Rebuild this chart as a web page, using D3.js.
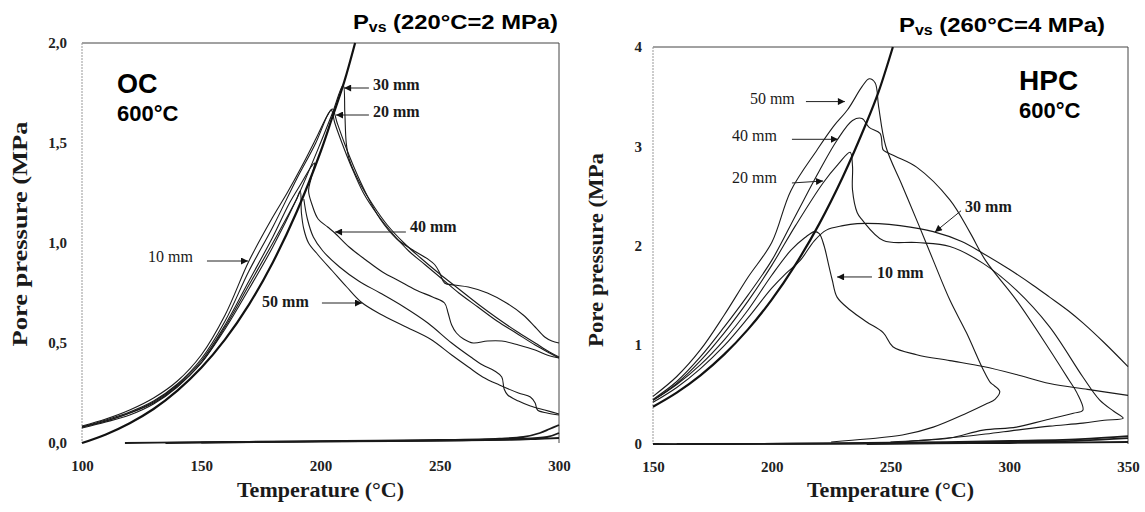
<!DOCTYPE html>
<html>
<head>
<meta charset="utf-8">
<script src="https://cdn.jsdelivr.net/npm/d3@7"></script>
<style>
    body { margin: 0; background: #fff; }
    svg { display: block; }
    .tick text { font-family: "Liberation Serif", "Times New Roman", serif; font-weight: bold; font-size: 15px; fill: #222; }
    .curve { fill: none; stroke: #1a1a1a; stroke-width: 1.1; stroke-linejoin: round; }
    .sat { fill: none; stroke: #111; stroke-width: 2.2; }
    .base { fill: none; stroke: #1a1a1a; stroke-width: 1.8; }
    .note { font-family: "Liberation Serif", "Times New Roman", serif; font-size: 16px; fill: #1a1a1a; }
    .head { font-family: "Liberation Sans", Arial, sans-serif; font-weight: bold; fill: #000; }
    .axlabel { font-family: "Liberation Serif", "Times New Roman", serif; font-weight: bold; font-size: 22px; fill: #1a1a1a; }
</style>
</head>
<body>
<svg width="1145" height="512"></svg>
<script>
// ---- OC panel (ordinary concrete) ----
const ocTicksX = [100, 150, 200, 250, 300];
const ocTicksY = [0, 0.5, 1, 1.5, 2];

// saturation vapour pressure (gauge), thick line
const ocSat = [[100, 0], [110, 0.043], [120, 0.099], [130, 0.17], [140, 0.262], [150, 0.376], [160, 0.518],
    [170, 0.692], [180, 0.903], [190, 1.155], [200, 1.455], [205, 1.63], [210, 1.808], [214.5, 2.0]];

const oc10 = [[100, 0.085], [110, 0.12], [120, 0.165], [130, 0.225], [140, 0.31], [150, 0.44], [160, 0.64],
    [170, 0.91], [180, 1.13], [186, 1.25], [192, 1.38], [198, 1.52], [203, 1.64], [205, 1.67], [207, 1.6],
    [210, 1.5], [214, 1.38], [219, 1.25], [225, 1.12], [232, 1.02], [238, 0.97], [245, 0.92], [248, 0.89],
    [250, 0.85], [252, 0.8], [256, 0.79], [262, 0.78], [270, 0.75], [278, 0.7], [285, 0.64], [290, 0.58],
    [294, 0.53], [297, 0.51], [300, 0.5]];
const oc20 = [[100, 0.08], [110, 0.115], [120, 0.155], [130, 0.21], [140, 0.295], [150, 0.42], [160, 0.61],
    [170, 0.86], [180, 1.08], [190, 1.32], [198, 1.5], [203, 1.64], [204.5, 1.665], [206, 1.6], [209, 1.5],
    [213, 1.38], [218, 1.25], [224, 1.14], [230, 1.05], [237, 0.96], [244, 0.89], [251, 0.82], [258, 0.75],
    [266, 0.68], [274, 0.61], [282, 0.55], [290, 0.49], [296, 0.45], [300, 0.425]];
const oc30 = [[100, 0.075], [110, 0.105], [120, 0.14], [130, 0.195], [140, 0.28], [150, 0.4], [160, 0.57],
    [170, 0.77], [180, 0.98], [190, 1.22], [200, 1.5], [205, 1.65], [209.5, 1.79], [210.2, 1.65], [210.8, 1.5],
    [212, 1.42], [216, 1.31], [222, 1.19], [228, 1.09], [235, 1.0], [242, 0.925], [250, 0.845], [258, 0.77],
    [266, 0.695], [274, 0.625], [282, 0.56], [290, 0.5], [296, 0.455], [300, 0.43]];
const oc40 = [[100, 0.08], [110, 0.11], [120, 0.15], [130, 0.205], [140, 0.29], [150, 0.41], [160, 0.59],
    [170, 0.81], [180, 1.03], [187, 1.2], [192, 1.3], [196, 1.38], [197.5, 1.4], [196, 1.32], [195, 1.26],
    [196.5, 1.19], [199, 1.12], [203, 1.08], [206, 1.05], [212, 0.98], [219, 0.915], [226, 0.855], [233, 0.81],
    [240, 0.765], [247, 0.73], [252, 0.7], [253.5, 0.65], [255, 0.59], [257, 0.55], [260, 0.52], [264, 0.5],
    [270, 0.51], [276, 0.51], [283, 0.49], [290, 0.465], [295, 0.44], [300, 0.425]];
const oc45 = [[193, 1.22], [194.5, 1.12], [197, 1.03], [201, 0.96], [208, 0.88], [216, 0.81], [225, 0.75],
    [235, 0.68], [245, 0.6], [255, 0.5], [263, 0.43], [268, 0.39], [273, 0.36], [276, 0.33], [277, 0.27],
    [278.5, 0.24], [283, 0.21], [288, 0.185], [294, 0.165], [300, 0.145]];
const oc50 = [[100, 0.08], [110, 0.11], [120, 0.15], [130, 0.2], [140, 0.285], [150, 0.4], [160, 0.58],
    [170, 0.79], [180, 1.0], [186, 1.13], [190, 1.22], [191.5, 1.26], [192, 1.15], [193, 1.07], [195, 1.0],
    [199, 0.94], [205, 0.86], [211, 0.78], [217, 0.705], [225, 0.645], [235, 0.585], [246, 0.52], [255, 0.44],
    [262, 0.38], [268, 0.33], [275, 0.29], [283, 0.25], [288, 0.23], [290, 0.2], [291, 0.165], [295, 0.15],
    [300, 0.14]];
const ocBase1 = [[118, 0.0], [140, 0.003], [170, 0.006], [200, 0.008], [230, 0.01], [260, 0.013], [280, 0.016],
    [290, 0.02], [300, 0.025]];
const ocBase2 = [[135, 0.0], [170, 0.005], [210, 0.01], [250, 0.015], [275, 0.022], [285, 0.03], [292, 0.05],
    [296, 0.07], [300, 0.09]];
const ocBase3 = [[150, 0.002], [200, 0.008], [250, 0.012], [280, 0.02], [295, 0.03], [300, 0.05]];

// ---- HPC panel (high performance concrete) ----
const hpcTicksX = [150, 200, 250, 300, 350];
const hpcTicksY = [0, 1, 2, 3, 4];

const hpcSat = [[150, 0.376], [160, 0.518], [170, 0.692], [180, 0.903], [190, 1.155], [200, 1.455], [210, 1.808],
    [220, 2.218], [230, 2.695], [240, 3.244], [245, 3.55], [251, 4.0]];

const hpc10 = [[150, 0.44], [160, 0.6], [170, 0.8], [180, 1.05], [190, 1.35], [200, 1.7], [208, 1.95],
    [214, 2.08], [218, 2.14], [220, 2.12], [222, 2.0], [224, 1.8], [225.5, 1.65], [227.5, 1.48], [233, 1.35],
    [240, 1.23], [247, 1.12], [251, 0.98], [261, 0.9], [275, 0.84], [289, 0.78], [303, 0.7], [317, 0.61],
    [333, 0.55], [350, 0.49]];
const hpc20 = [[150, 0.44], [160, 0.61], [170, 0.84], [180, 1.12], [190, 1.44], [200, 1.8], [210, 2.2],
    [221.6, 2.63], [228, 2.82], [233, 2.94], [234, 2.8], [234, 2.56], [236, 2.33], [238, 2.26], [247, 2.05],
    [261, 2.03], [275, 1.99], [289, 1.82], [303, 1.55], [317, 1.18], [331, 0.675], [338, 0.445], [344, 0.33],
    [348, 0.26], [340, 0.24], [331, 0.21], [317, 0.18], [303, 0.14], [290, 0.1], [270, 0.05], [250, 0.02]];
const hpc30 = [[150, 0.42], [160, 0.57], [170, 0.76], [180, 0.99], [190, 1.27], [200, 1.57], [206, 1.72],
    [212, 1.85], [218, 2.05], [223, 2.155], [230, 2.2], [236, 2.22], [245, 2.22], [254, 2.2], [268, 2.14],
    [280, 2.04], [289, 1.92], [300, 1.76], [310, 1.6], [317, 1.48], [325, 1.34], [331, 1.22], [340, 1.02],
    [350, 0.78]];
const hpc40 = [[150, 0.45], [160, 0.63], [170, 0.88], [180, 1.18], [190, 1.5], [200, 1.85], [210, 2.3],
    [220, 2.75], [227.5, 3.06], [234, 3.26], [238, 3.28], [241, 3.19], [245.6, 3.13], [246.5, 3.0], [247, 2.96],
    [252, 2.9], [261, 2.79], [275, 2.46], [283.5, 2.13], [290, 1.85], [303, 1.45], [317, 0.95], [325, 0.65],
    [328.5, 0.515], [331, 0.34], [327, 0.31], [315, 0.24], [303, 0.17], [289, 0.14], [275, 0.06], [260, 0.03],
    [247, 0.01]];
const hpc50 = [[150, 0.48], [160, 0.68], [170, 0.95], [180, 1.3], [190, 1.68], [200, 2.03], [208, 2.55],
    [219, 2.96], [226, 3.2], [232, 3.37], [238, 3.6], [241, 3.68], [243.5, 3.64], [245, 3.4], [248, 3.0],
    [255, 2.6], [262, 2.2], [268, 1.85], [275, 1.45], [282, 1.12], [289, 0.75], [292, 0.62], [293, 0.6],
    [296, 0.53], [294, 0.45], [290, 0.4], [282, 0.31], [268, 0.17], [255, 0.09], [240, 0.05], [225, 0.02]];
const hpcBase1 = [[150, 0.0], [180, 0.0], [220, 0.005], [260, 0.015], [300, 0.03], [330, 0.05], [350, 0.08]];
const hpcBase2 = [[240, 0.0], [270, 0.01], [300, 0.02], [330, 0.035], [350, 0.06]];
const hpcBase3 = [[160, 0.0], [250, 0.005], [300, 0.01], [350, 0.02]];

// arrow notes, in data units: text centre, arrow start, arrow tip
const ocNotes = [
    { label: "30 mm", tx: 222, ty: 1.795, x1: 220.3, y1: 1.775, x2: 209.9, y2: 1.775, bold: true },
    { label: "20 mm", tx: 222, ty: 1.66, x1: 220.3, y1: 1.64, x2: 206.5, y2: 1.64, bold: true },
    { label: "40 mm", tx: 237.5, ty: 1.085, x1: 235.8, y1: 1.055, x2: 206.1, y2: 1.055, bold: true },
    { label: "50 mm", tx: 175.5, ty: 0.71, x1: 200.6, y1: 0.70, x2: 217.4, y2: 0.70, bold: true },
    { label: "10 mm", tx: 127.7, ty: 0.935, x1: 152.4, y1: 0.91, x2: 169.6, y2: 0.91, bold: false }
];
const hpcNotes = [
    { label: "50 mm", tx: 190.8, ty: 3.486, x1: 214.4, y1: 3.45, x2: 230.8, y2: 3.45, bold: false },
    { label: "40 mm", tx: 183.3, ty: 3.113, x1: 208.5, y1: 3.07, x2: 227.9, y2: 3.07, bold: false },
    { label: "20 mm", tx: 183.3, ty: 2.69, x1: 208.5, y1: 2.63, x2: 221.6, y2: 2.65, bold: false },
    { label: "30 mm", tx: 281.4, ty: 2.39, x1: 279.7, y1: 2.35, x2: 268.7, y2: 2.136, bold: true },
    { label: "10 mm", tx: 244.3, ty: 1.733, x1: 242.2, y1: 1.683, x2: 227.5, y2: 1.683, bold: true }
];

const svg = d3.select("svg");

svg.append("defs").append("marker")
    .attr("id", "head")
    .attr("viewBox", "0 0 10 10")
    .attr("refX", 10).attr("refY", 5)
    .attr("markerWidth", 9).attr("markerHeight", 7)
    .attr("markerUnits", "userSpaceOnUse")
    .attr("orient", "auto")
    .append("path")
    .attr("d", "M0,0L10,5L0,10Z")
    .attr("fill", "#111");

function drawPanel(p) {
    const x = d3.scaleLinear(p.xDomain, p.xRange);
    const y = d3.scaleLinear(p.yDomain, p.yRange);
    const g = svg.append("g");

    // frame
    g.append("path")
        .attr("d", `M${x.range()[0]},${y.range()[1]}H${x.range()[1]}V${y.range()[0]}`)
        .attr("fill", "none").attr("stroke", "#444").attr("stroke-width", 1);
    g.append("line")
        .attr("x1", x.range()[0]).attr("x2", x.range()[0])
        .attr("y1", y.range()[1]).attr("y2", y.range()[0])
        .attr("stroke", "#999").attr("stroke-width", 1).attr("stroke-dasharray", "2,1");

    g.append("g")
        .attr("transform", `translate(0,${y.range()[0]})`)
        .call(d3.axisBottom(x).tickValues(p.ticksX).tickSize(0).tickPadding(17))
        .call(a => a.select(".domain").remove());
    g.append("g")
        .attr("transform", `translate(${x.range()[0]},0)`)
        .call(d3.axisLeft(y).tickValues(p.ticksY).tickSize(0).tickPadding(p.yPad).tickFormat(p.fmt))
        .call(a => a.select(".domain").remove());

    const line = d3.line()
        .x(d => x(d[0]))
        .y(d => y(d[1]))
        .curve(d3.curveCatmullRom.alpha(0.5));

    g.selectAll(".base").data(p.bases).enter().append("path")
        .attr("class", "base").attr("d", line);
    g.selectAll(".curve").data(p.curves).enter().append("path")
        .attr("class", "curve").attr("d", line);
    g.append("path").attr("class", "sat").attr("d", line(p.sat));

    const notes = g.selectAll(".n").data(p.notes).enter().append("g");
    notes.append("line")
        .attr("x1", d => x(d.x1)).attr("y1", d => y(d.y1))
        .attr("x2", d => x(d.x2)).attr("y2", d => y(d.y2))
        .attr("stroke", "#222").attr("stroke-width", 1)
        .attr("marker-end", "url(#head)");
    notes.append("text")
        .attr("class", "note")
        .attr("x", d => x(d.tx)).attr("y", d => y(d.ty))
        .attr("dy", "0.35em")
        .attr("font-weight", d => d.bold ? "bold" : "normal")
        .text(d => d.label);

    // axis titles
    g.append("text").attr("class", "axlabel")
        .attr("x", (x.range()[0] + x.range()[1]) / 2).attr("y", 497)
        .attr("text-anchor", "middle")
        .text("Temperature (°C)");
    g.append("text").attr("class", "axlabel")
        .attr("transform", `translate(${p.yLabel[0]},${p.yLabel[1]}) rotate(-90)`)
        .attr("text-anchor", "middle")
        .attr("textLength", p.yLabel[2]).attr("lengthAdjust", "spacingAndGlyphs")
        .text("Pore pressure (MPa");

    // header and panel name
    const h = g.append("text").attr("class", "head")
        .attr("x", p.head[0]).attr("y", p.head[1])
        .attr("font-size", 21)
        .attr("textLength", p.head[2]).attr("lengthAdjust", "spacingAndGlyphs");
    h.append("tspan").text("P");
    h.append("tspan").attr("font-size", 14).attr("dy", 3).text("vs");
    h.append("tspan").attr("dy", -3).text(" " + p.headText);

    g.append("text").attr("class", "head")
        .attr("x", p.name[0]).attr("y", p.name[1])
        .attr("font-size", p.name[2]).text(p.nameText);
    g.append("text").attr("class", "head")
        .attr("x", p.name[0]).attr("y", p.name[1] + 28)
        .attr("font-size", 22).text("600°C");
}

const comma = d => d3.format(".1f")(d).replace(".", ",");

drawPanel({
    xDomain: [100, 300], xRange: [82, 559],
    yDomain: [0, 2], yRange: [443, 43],
    ticksX: ocTicksX, ticksY: ocTicksY, fmt: comma, yPad: 15,
    sat: ocSat, curves: [oc10, oc20, oc30, oc40, oc45, oc50], bases: [ocBase1, ocBase2, ocBase3],
    notes: ocNotes,
    yLabel: [27, 234, 225],
    head: [353, 29, 205], headText: "(220°C=2 MPa)",
    name: [117, 93, 27], nameText: "OC"
});

drawPanel({
    xDomain: [150, 350], xRange: [653, 1128],
    yDomain: [0, 4], yRange: [444, 47],
    ticksX: hpcTicksX, ticksY: hpcTicksY, fmt: d3.format("d"), yPad: 11,
    sat: hpcSat, curves: [hpc10, hpc20, hpc30, hpc40, hpc50], bases: [hpcBase1, hpcBase2, hpcBase3],
    notes: hpcNotes,
    yLabel: [603, 250, 194],
    head: [899, 32, 206], headText: "(260°C=4 MPa)",
    name: [1019, 90, 28], nameText: "HPC"
});
</script>
</body>
</html>
